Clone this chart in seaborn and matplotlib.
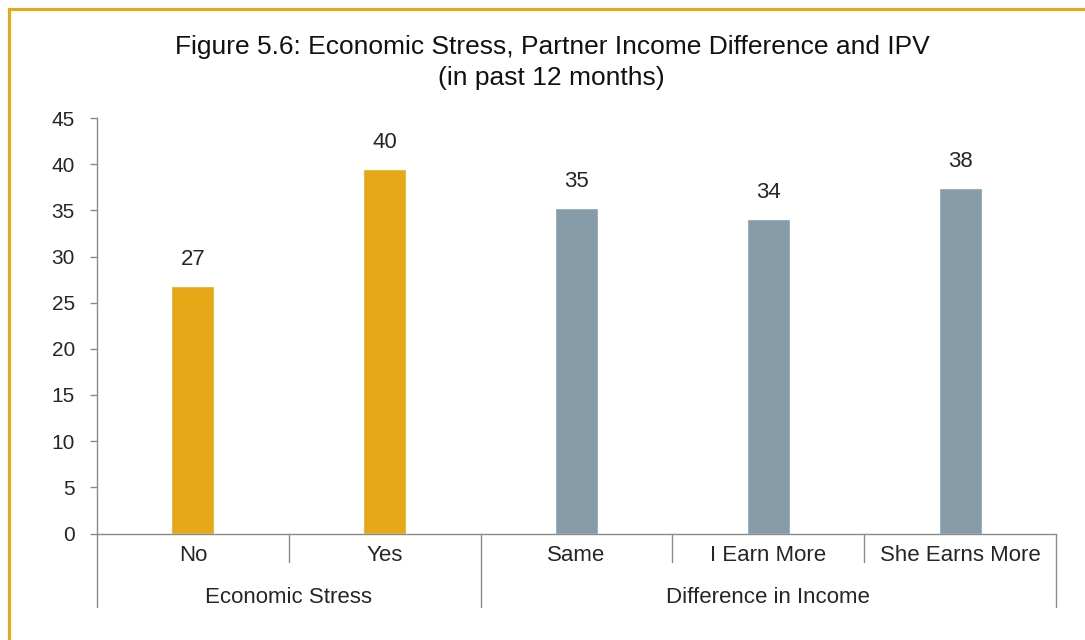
import matplotlib
matplotlib.use("Agg")
import matplotlib.pyplot as plt
import matplotlib.patches as patches
import seaborn as sns
import pandas as pd

# values
categories = ["No", "Yes", "Same", "I Earn More", "She Earns More"]
values = [26.8, 39.5, 35.3, 34.1, 37.4]
value_labels = ["27", "40", "35", "34", "38"]
groups = ["Economic Stress", "Economic Stress", "Difference in Income",
          "Difference in Income", "Difference in Income"]
group_names = ["Economic Stress", "Difference in Income"]
yticks = [0, 5, 10, 15, 20, 25, 30, 35, 40, 45]

orange = "#E6A817"
grey = "#869CA8"
text_col = "#262626"
line_col = "#8a8a8a"

df = pd.DataFrame({"category": categories, "value": values, "group": groups})

sns.set_style("white")
plt.rcParams["font.family"] = ["Liberation Sans", "DejaVu Sans"]

W, H = 1085, 640
ax_bottom, ax_h = 533.5, 415.5

fig = plt.figure(figsize=(W / 100, H / 100), dpi=100)
ax = fig.add_axes([97 / W, 1 - ax_bottom / H, (1056 - 97) / W, ax_h / H])

sns.barplot(data=df, x="category", y="value", hue="group",
            palette={"Economic Stress": orange, "Difference in Income": grey},
            width=0.224, dodge=False, legend=False, ax=ax, saturation=1)

# label each bar with its rounded value
for patch in ax.patches:
    cx = patch.get_x() + patch.get_width() / 2
    h = patch.get_height()
    if h <= 0:
        continue
    idx = int(round(cx))
    ax.annotate(value_labels[idx], (cx, h), xytext=(0, 15), textcoords="offset points",
                ha="center", va="baseline", fontsize=16, color=text_col)

ax.set_xlim(-0.5, len(categories) - 0.5)
ax.set_ylim(0, 45)
ax.set_yticks(yticks)
ax.tick_params(axis="y", which="both", left=True, length=5, width=1, color=line_col,
               labelsize=15, labelcolor=text_col, pad=11)
ax.set_xticks([])
ax.set_xlabel("")
ax.set_ylabel("")
sns.despine(ax=ax, top=True, right=True)
for s in ["left", "bottom"]:
    ax.spines[s].set_color(line_col)
    ax.spines[s].set_linewidth(1)

# grouped category axis
trans = ax.get_xaxis_transform()
short = -28.5 / ax_h
long_ = -73.5 / ax_h
bounds = [i - 0.5 for i in range(len(categories) + 1)]
for i, b in enumerate(bounds):
    full = i == 0 or i == len(bounds) - 1 or groups[i - 1] != groups[min(i, len(groups) - 1)]
    ax.plot([b, b], [0, long_ if full else short], transform=trans, color=line_col,
            lw=1, clip_on=False)
for i, c in enumerate(categories):
    ax.text(i, -27.5 / ax_h, c, transform=trans, ha="center", va="baseline",
            fontsize=16, color=text_col)
for g in group_names:
    idx = [i for i, gg in enumerate(groups) if gg == g]
    ax.text(sum(idx) / len(idx), -69.5 / ax_h, g, transform=trans, ha="center",
            va="baseline", fontsize=16, color=text_col)

fig.text(552.5 / W, 1 - 54 / H,
         "Figure 5.6: Economic Stress, Partner Income Difference and IPV",
         ha="center", va="baseline", fontsize=19, color="#111111")
fig.text(551 / W, 1 - 85 / H, "(in past 12 months)",
         ha="center", va="baseline", fontsize=19, color="#111111")

fig.add_artist(patches.Rectangle((8.5 / W, -0.2), 2, 1.2 - 8.5 / H,
                                 transform=fig.transFigure, fill=False,
                                 edgecolor=orange, lw=2.2))

fig.savefig("out.png", dpi=100)
